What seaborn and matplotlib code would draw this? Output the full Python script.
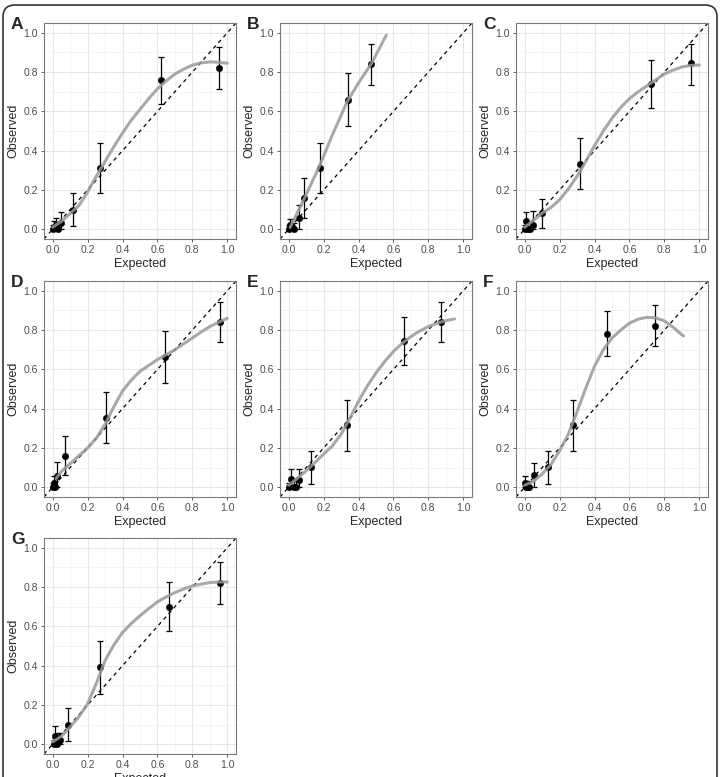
import numpy as np
import pandas as pd
import matplotlib
matplotlib.use("Agg")
import matplotlib.pyplot as plt
import seaborn as sns
from matplotlib.patches import FancyBboxPatch
from matplotlib.ticker import MultipleLocator

a_exp = [0.003, 0.010, 0.020, 0.030, 0.050, 0.114, 0.270, 0.618, 0.952]
a_obs = [0.000, 0.010, 0.020, 0.000, 0.030, 0.097, 0.311, 0.760, 0.820]
a_lo = [0.000, 0.000, 0.000, 0.000, 0.000, 0.014, 0.186, 0.640, 0.713]
a_hi = [0.020, 0.040, 0.059, 0.030, 0.088, 0.182, 0.439, 0.878, 0.926]
a_cx = [0.0, 0.05, 0.1, 0.15, 0.2, 0.25, 0.3, 0.35, 0.4, 0.45, 0.5, 0.55, 0.6, 0.65, 0.7, 0.75, 0.8, 0.85, 0.9, 0.95, 1.0]
a_cy = [0.01, 0.04, 0.08, 0.12, 0.19, 0.27, 0.345, 0.42, 0.49, 0.555, 0.61, 0.665, 0.715, 0.755, 0.79, 0.815, 0.835, 0.847, 0.852, 0.85, 0.845]

b_exp = [0.000, 0.010, 0.020, 0.030, 0.057, 0.090, 0.178, 0.337, 0.474]
b_obs = [0.000, 0.020, 0.010, 0.000, 0.057, 0.160, 0.311, 0.660, 0.840]
b_lo = [0.000, 0.000, 0.000, 0.000, 0.000, 0.058, 0.186, 0.527, 0.736]
b_hi = [0.020, 0.054, 0.054, 0.030, 0.122, 0.260, 0.439, 0.794, 0.943]
b_cx = [0.008, 0.092, 0.176, 0.25, 0.335, 0.40, 0.475, 0.559]
b_cy = [0.009, 0.161, 0.321, 0.48, 0.65, 0.745, 0.845, 0.988]

c_exp = [0.003, 0.010, 0.020, 0.030, 0.045, 0.100, 0.318, 0.722, 0.953]
c_obs = [0.000, 0.040, 0.000, 0.000, 0.020, 0.080, 0.333, 0.738, 0.845]
c_lo = [0.000, 0.005, 0.000, 0.000, 0.000, 0.005, 0.203, 0.617, 0.736]
c_hi = [0.020, 0.090, 0.030, 0.030, 0.091, 0.155, 0.464, 0.861, 0.943]
c_cx = [0.0, 0.05, 0.1, 0.15, 0.2, 0.25, 0.3, 0.35, 0.4, 0.45, 0.5, 0.55, 0.6, 0.65, 0.7, 0.75, 0.8, 0.85, 0.9, 0.95, 1.0]
c_cy = [0.01, 0.045, 0.082, 0.11, 0.15, 0.205, 0.27, 0.345, 0.425, 0.5, 0.565, 0.62, 0.665, 0.7, 0.73, 0.76, 0.79, 0.81, 0.826, 0.834, 0.836]

d_exp = [0.003, 0.008, 0.015, 0.025, 0.072, 0.303, 0.644, 0.956]
d_obs = [0.000, 0.020, 0.000, 0.059, 0.160, 0.354, 0.661, 0.843]
d_lo = [0.000, 0.000, 0.000, 0.000, 0.062, 0.223, 0.531, 0.739]
d_hi = [0.020, 0.055, 0.030, 0.126, 0.261, 0.486, 0.793, 0.941]
d_cx = [0.02, 0.05, 0.1, 0.15, 0.2, 0.25, 0.3, 0.35, 0.4, 0.45, 0.5, 0.55, 0.6, 0.65, 0.7, 0.75, 0.8, 0.85, 0.9, 0.95, 1.0]
d_cy = [0.045, 0.08, 0.12, 0.16, 0.2, 0.25, 0.32, 0.41, 0.49, 0.545, 0.59, 0.62, 0.65, 0.675, 0.70, 0.73, 0.76, 0.79, 0.818, 0.84, 0.86]

e_exp = [0.000, 0.015, 0.030, 0.040, 0.060, 0.125, 0.336, 0.658, 0.875]
e_obs = [0.000, 0.040, 0.000, 0.000, 0.037, 0.101, 0.315, 0.742, 0.843]
e_lo = [0.000, 0.005, 0.000, 0.000, 0.000, 0.017, 0.185, 0.621, 0.739]
e_hi = [0.020, 0.093, 0.030, 0.030, 0.093, 0.185, 0.443, 0.865, 0.944]
e_cx = [0.0, 0.05, 0.1, 0.15, 0.2, 0.25, 0.3, 0.35, 0.4, 0.45, 0.5, 0.55, 0.6, 0.65, 0.7, 0.75, 0.8, 0.85, 0.9, 0.95]
e_cy = [0.01, 0.045, 0.084, 0.125, 0.169, 0.21, 0.27, 0.35, 0.438, 0.515, 0.582, 0.64, 0.691, 0.733, 0.767, 0.795, 0.818, 0.835, 0.848, 0.857]

f_exp = [0.000, 0.005, 0.015, 0.025, 0.053, 0.133, 0.276, 0.470, 0.749]
f_obs = [0.020, 0.000, 0.000, 0.000, 0.062, 0.101, 0.315, 0.781, 0.821]
f_lo = [0.000, 0.000, 0.000, 0.000, 0.000, 0.017, 0.185, 0.666, 0.717]
f_hi = [0.059, 0.020, 0.030, 0.030, 0.125, 0.185, 0.442, 0.897, 0.927]
f_cx = [0.0, 0.05, 0.1, 0.15, 0.2, 0.25, 0.3, 0.35, 0.4, 0.45, 0.5, 0.55, 0.6, 0.65, 0.7, 0.75, 0.8, 0.85, 0.9, 0.91]
f_cy = [0.01, 0.03, 0.067, 0.115, 0.186, 0.27, 0.385, 0.505, 0.616, 0.70, 0.759, 0.80, 0.835, 0.856, 0.865, 0.862, 0.847, 0.815, 0.776, 0.77]

g_exp = [0.005, 0.012, 0.025, 0.035, 0.044, 0.088, 0.270, 0.665, 0.956]
g_obs = [0.000, 0.040, 0.000, 0.015, 0.020, 0.100, 0.392, 0.701, 0.819]
g_lo = [0.000, 0.005, 0.000, 0.000, 0.000, 0.015, 0.257, 0.574, 0.713]
g_hi = [0.020, 0.093, 0.030, 0.057, 0.057, 0.184, 0.527, 0.828, 0.927]
g_cx = [0.0, 0.05, 0.1, 0.15, 0.2, 0.25, 0.3, 0.35, 0.4, 0.45, 0.5, 0.55, 0.6, 0.65, 0.7, 0.75, 0.8, 0.85, 0.9, 0.95, 1.0]
g_cy = [0.012, 0.04, 0.088, 0.14, 0.206, 0.31, 0.426, 0.505, 0.569, 0.615, 0.654, 0.69, 0.725, 0.75, 0.772, 0.79, 0.806, 0.815, 0.823, 0.826, 0.826]

paineis = {
    "A": (a_exp, a_obs, a_lo, a_hi, a_cx, a_cy),
    "B": (b_exp, b_obs, b_lo, b_hi, b_cx, b_cy),
    "C": (c_exp, c_obs, c_lo, c_hi, c_cx, c_cy),
    "D": (d_exp, d_obs, d_lo, d_hi, d_cx, d_cy),
    "E": (e_exp, e_obs, e_lo, e_hi, e_cx, e_cy),
    "F": (f_exp, f_obs, f_lo, f_hi, f_cx, f_cy),
    "G": (g_exp, g_obs, g_lo, g_hi, g_cx, g_cy),
}

sns.set_theme(style="white")
plt.rcParams["font.family"] = ["Liberation Sans", "DejaVu Sans"]

W, H = 720, 777
fig = plt.figure(figsize=(W / 100, H / 100), dpi=100)

lefts = [44, 280, 516]
tops = [23, 281, 538]
aw, ah = 192, 216

for i, (letra, (ex, ob, lo, hi, cx, cy)) in enumerate(paineis.items()):
    r, c = divmod(i, 3)
    ax = fig.add_axes([lefts[c] / W, 1 - (tops[r] + ah) / H, aw / W, ah / H])
    df = pd.DataFrame({"Expected": ex, "Observed": ob, "lo": lo, "hi": hi})
    curva = pd.DataFrame({"Expected": cx, "Observed": cy})

    ax.set_xlim(-0.05, 1.05)
    ax.set_ylim(-0.05, 1.05)
    ax.xaxis.set_major_locator(MultipleLocator(0.2))
    ax.yaxis.set_major_locator(MultipleLocator(0.2))
    ax.xaxis.set_minor_locator(MultipleLocator(0.1))
    ax.yaxis.set_minor_locator(MultipleLocator(0.1))
    ax.grid(which="major", color="#e6e6e6", lw=0.8)
    ax.grid(which="minor", color="#f3f3f3", lw=0.6)
    ax.set_axisbelow(True)

    ax.axline((0, 0), (1, 1), color="black", lw=0.9, ls=(0, (3, 3)), zorder=2)
    ax.errorbar(df["Expected"], df["Observed"],
                yerr=[df["Observed"] - df["lo"], df["hi"] - df["Observed"]],
                fmt="none", ecolor="black", elinewidth=0.9, capsize=2, capthick=0.9, zorder=3)
    sns.scatterplot(data=df, x="Expected", y="Observed", ax=ax, color="black",
                    s=22, edgecolor="black", linewidth=0.3, zorder=4)
    sns.lineplot(data=curva, x="Expected", y="Observed", ax=ax, color="#999999",
                 lw=2.2, alpha=0.85, zorder=5, sort=False)

    ax.xaxis.set_major_formatter(matplotlib.ticker.FormatStrFormatter("%.1f"))
    ax.yaxis.set_major_formatter(matplotlib.ticker.FormatStrFormatter("%.1f"))
    ax.tick_params(which="major", length=2.5, width=0.6, color="#444444",
                   labelsize=7.5, labelcolor="#4d4d4d", pad=2, bottom=True, left=True)
    ax.tick_params(which="minor", length=0)
    for sp in ax.spines.values():
        sp.set_color("#7a7a7a")
        sp.set_linewidth(0.8)
    ax.set_xlabel("Expected", fontsize=9, labelpad=2)
    ax.set_ylabel("Observed", fontsize=9, labelpad=3)

    fig.text((lefts[c] - 33) / W, 1 - (tops[r] - 6) / H, letra, fontsize=12.5,
             fontweight="bold", ha="left", va="top")

moldura = FancyBboxPatch((3, -30), 714, 802, boxstyle="round,pad=0,rounding_size=12",
                         transform=None, fill=False, ec="#333333", lw=1.2)
fig.patches.append(moldura)

fig.savefig("out.png", dpi=100)
